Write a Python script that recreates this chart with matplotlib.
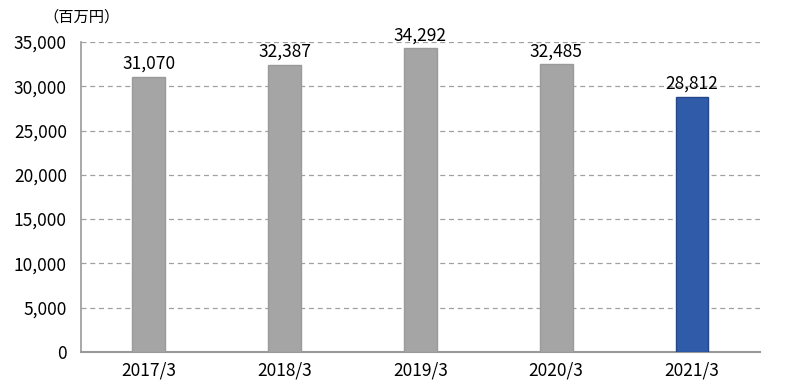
import matplotlib
matplotlib.use("Agg")
import matplotlib.pyplot as plt
from matplotlib.ticker import FuncFormatter

plt.rcParams['font.family'] = ['Noto Sans CJK JP', 'DejaVu Sans']

years = ['2017/3', '2018/3', '2019/3', '2020/3', '2021/3']
values = [31070, 32387, 34292, 32485, 28812]
colors = ['#a5a5a5', '#a5a5a5', '#a5a5a5', '#a5a5a5', '#2f5ba8']
edges = ['#9a9a9a', '#9a9a9a', '#9a9a9a', '#9a9a9a', '#24478a']
yticks = [0, 5000, 10000, 15000, 20000, 25000, 30000, 35000]

fig = plt.figure(figsize=(8, 3.85), dpi=100)
ax = fig.add_axes([0.101, 0.086, 0.849, 0.805])

x = range(len(years))
bars = ax.bar(x, values, width=0.24, color=colors, edgecolor=edges, linewidth=1, zorder=3)

for b, v in zip(bars, values):
    ax.text(b.get_x() + b.get_width() / 2, v + 450, f'{v:,}',
            ha='center', va='bottom', fontsize=12.5, color='black')

ax.set_xlim(-0.5, len(years) - 0.5)
ax.set_ylim(0, 35000)
ax.set_yticks(yticks)
ax.yaxis.set_major_formatter(FuncFormatter(lambda v, p: f'{int(v):,}'))
ax.set_xticks(list(x))
ax.set_xticklabels(years)
ax.tick_params(axis='both', length=0, labelsize=12.5, labelcolor='black')
ax.tick_params(axis='x', pad=7)
ax.tick_params(axis='y', pad=10)

ax.grid(axis='y', color='#a0a0a0', linestyle=(0, (4, 3)), linewidth=0.9, zorder=0)
for s in ['top', 'right']:
    ax.spines[s].set_visible(False)
ax.spines['left'].set_color('#999999')
ax.spines['bottom'].set_color('#999999')
ax.spines['left'].set_linewidth(1.2)
ax.spines['bottom'].set_linewidth(1.5)

fig.text(0.102, 0.956, '（百万円）', fontsize=11, va='center', ha='center')

fig.savefig('out.png', dpi=100)
